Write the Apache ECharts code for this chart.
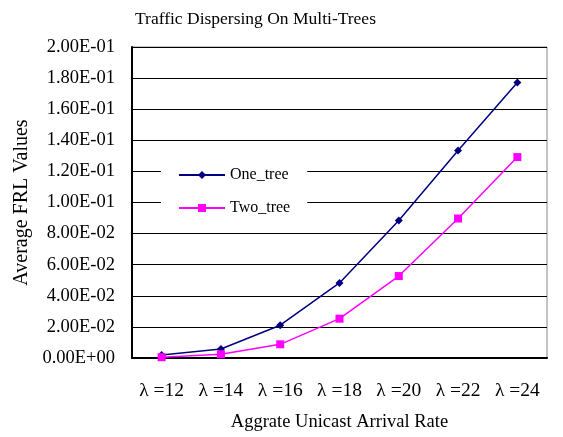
<!DOCTYPE html>
<html>
<head>
<meta charset="utf-8">
<script src="https://cdn.jsdelivr.net/npm/echarts@6/dist/echarts.min.js"></script>
<style>
html,body{margin:0;padding:0;background:#fff;}
#chart{width:563px;height:437px;}
</style>
</head>
<body>
<div id="chart"></div>
<script>
var categories = ['λ =12', 'λ =14', 'λ =16', 'λ =18', 'λ =20', 'λ =22', 'λ =24'];
var oneTree = [0.002, 0.0058, 0.0211, 0.0483, 0.0884, 0.1334, 0.1772];
var twoTree = [0.0005, 0.0024, 0.0088, 0.0253, 0.0527, 0.0897, 0.1292];
var yTickLabels = ['0.00E+00', '2.00E-02', '4.00E-02', '6.00E-02', '8.00E-02', '1.00E-01',
                   '1.20E-01', '1.40E-01', '1.60E-01', '1.80E-01', '2.00E-01'];

var FONT = '"Liberation Serif", "DejaVu Serif", serif';
var chart = echarts.init(document.getElementById('chart'));
chart.setOption({
  animation: false,
  backgroundColor: '#fff',
  title: {
    text: 'Traffic Dispersing On Multi-Trees',
    left: 130, top: 5,
    textStyle: {fontFamily: FONT, fontSize: 17.5, fontWeight: 'normal', color: '#000'}
  },
  grid: {left: 132, right: 16, top: 47, bottom: 77, show: true, borderColor: '#888', borderWidth: 1, backgroundColor: 'transparent'},
  legend: {
    orient: 'vertical', left: 161, top: 160,
    padding: [7, 17, 8, 17],
    backgroundColor: '#fff',
    itemWidth: 46, itemHeight: 10, itemGap: 17,
    textStyle: {fontFamily: FONT, fontSize: 16, color: '#000'},
    data: ['One_tree', 'Two_tree']
  },
  xAxis: {
    type: 'category', data: categories, boundaryGap: true,
    name: 'Aggrate Unicast Arrival Rate', nameLocation: 'middle', nameGap: 55,
    nameTextStyle: {fontFamily: FONT, fontSize: 18.5, color: '#000'},
    axisLine: {lineStyle: {color: '#000', width: 2}},
    axisTick: {inside: true, length: 6, lineStyle: {color: '#000'}},
    axisLabel: {fontFamily: FONT, fontSize: 19.5, color: '#000', margin: 23}
  },
  yAxis: {
    type: 'value', min: 0, max: 0.2, interval: 0.02,
    name: 'Average FRL Values', nameLocation: 'middle', nameGap: 100, nameRotate: 90,
    nameTextStyle: {fontFamily: FONT, fontSize: 20, color: '#000'},
    axisLine: {show: true, lineStyle: {color: '#000', width: 2}},
    axisTick: {show: false},
    splitLine: {lineStyle: {color: '#000', width: 1}},
    axisLabel: {
      fontFamily: FONT, fontSize: 18.5, color: '#000', margin: 17,
      formatter: function (v) { return yTickLabels[Math.round(v / 0.02)]; }
    }
  },
  series: [
    {name: 'One_tree', type: 'line', data: oneTree, symbol: 'diamond', symbolSize: 8,
     lineStyle: {color: '#000080', width: 1.5}, itemStyle: {color: '#000080'}},
    {name: 'Two_tree', type: 'line', data: twoTree, symbol: 'rect', symbolSize: 8,
     lineStyle: {color: '#ff00ff', width: 1.5}, itemStyle: {color: '#ff00ff'}}
  ]
});
</script>
</body>
</html>
